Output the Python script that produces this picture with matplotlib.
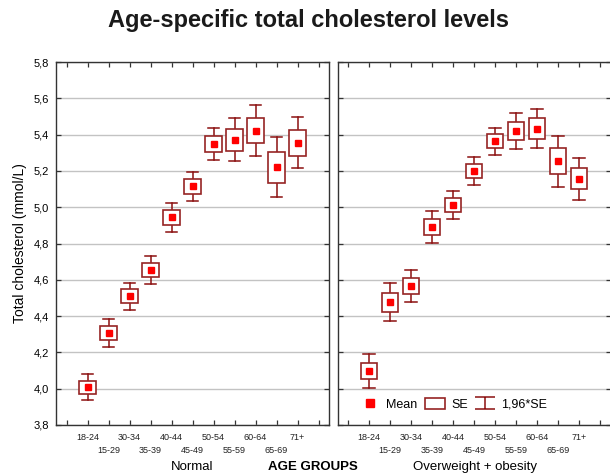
import matplotlib.pyplot as plt
from matplotlib.lines import Line2D
from matplotlib.patches import Patch, Rectangle
from matplotlib.path import Path
from matplotlib.ticker import FuncFormatter

plt.rcParams['font.family'] = ['Liberation Sans', 'DejaVu Sans']

# age groups as printed on the axis
age_groups = ['18-24', '15-29', '30-34', '35-39', '40-44', '45-49',
              '50-54', '55-59', '60-64', '65-69', '71+']

# Normal weight group
normal_mean = [4.009, 4.307, 4.509, 4.654, 4.944, 5.115, 5.348, 5.372, 5.421, 5.220, 5.355]
normal_se = [0.036, 0.039, 0.039, 0.040, 0.040, 0.040, 0.046, 0.060, 0.070, 0.085, 0.072]
normal_ci = [0.073, 0.079, 0.076, 0.079, 0.080, 0.079, 0.090, 0.118, 0.140, 0.166, 0.140]

# Overweight + obesity group
over_mean = [4.098, 4.476, 4.566, 4.891, 5.012, 5.198, 5.363, 5.421, 5.433, 5.253, 5.157]
over_se = [0.046, 0.053, 0.042, 0.044, 0.040, 0.039, 0.039, 0.050, 0.056, 0.072, 0.059]
over_ci = [0.092, 0.105, 0.089, 0.088, 0.077, 0.076, 0.075, 0.100, 0.107, 0.140, 0.116]

panels = ['Normal', 'Overweight + obesity']

BOX_C = '#962424'
WHISK_C = '#8b1010'
MEAN_C = '#ff0000'
GRID_C = '#c3c3c3'
SPINE_C = '#333333'

fig = plt.figure(figsize=(6.10, 4.74), dpi=100)
ax1 = fig.add_axes([56 / 610, 49 / 474, 273 / 610, 363 / 474])
ax2 = fig.add_axes([337.5 / 610, 49 / 474, 273 / 610, 363 / 474])


def draw_panel(ax, means, se, ci):
    x = list(range(len(means)))
    box_w = 0.8
    cap_w = 0.56
    for xi, m, s, c in zip(x, means, se, ci):
        # 1.96*SE whisker
        ax.plot([xi, xi], [m - c, m - s], color=WHISK_C, lw=1.1, zorder=3)
        ax.plot([xi, xi], [m + s, m + c], color=WHISK_C, lw=1.1, zorder=3)
        ax.plot([xi - cap_w / 2, xi + cap_w / 2], [m - c, m - c], color=WHISK_C, lw=1.1, zorder=3)
        ax.plot([xi - cap_w / 2, xi + cap_w / 2], [m + c, m + c], color=WHISK_C, lw=1.1, zorder=3)
        # SE box
        ax.add_patch(Rectangle((xi - box_w / 2, m - s), box_w, 2 * s,
                               facecolor='white', edgecolor=BOX_C, lw=1.2, zorder=4))
    ax.plot(x, means, 's', color=MEAN_C, ms=4.6, mec=MEAN_C, zorder=5)

    ax.set_xlim(-1.5, 11.5)
    ax.set_ylim(3.8, 5.8)
    ax.set_yticks([3.8 + 0.2 * i for i in range(11)])
    ax.yaxis.grid(True, color=GRID_C, lw=1.0, zorder=0)
    ax.set_axisbelow(True)
    ax.set_xticks(list(range(-1, 12)))
    labels = [''] + [g if i % 2 == 0 else '\n' + g for i, g in enumerate(age_groups)] + ['']
    ax.set_xticklabels(labels, fontsize=6.5, color='#222222', linespacing=1.5)
    ax.tick_params(direction='in', length=3.5, width=0.9, color=SPINE_C,
                   top=True, right=True, pad=6)
    for sp in ax.spines.values():
        sp.set_color(SPINE_C)
        sp.set_linewidth(1.0)


draw_panel(ax1, normal_mean, normal_se, normal_ci)
draw_panel(ax2, over_mean, over_se, over_ci)

ax1.yaxis.set_major_formatter(FuncFormatter(lambda v, p: f'{v:.1f}'.replace('.', ',')))
ax1.tick_params(axis='y', labelsize=8, pad=5)
ax2.tick_params(axis='y', labelleft=False)
ax1.set_ylabel('Total cholesterol (mmol/L)', fontsize=10, labelpad=5)

fig.text(192 / 610, 1 - 467 / 474, panels[0], fontsize=9.5, ha='center', va='center')
fig.text(313 / 610, 1 - 467 / 474, 'AGE GROUPS', fontsize=9.5, weight='bold', ha='center', va='center')
fig.text(475 / 610, 1 - 467 / 474, panels[1], fontsize=9.5, ha='center', va='center')

fig.suptitle('Age-specific total cholesterol levels', fontsize=17, weight='bold',
             x=0.505, y=1 - 21 / 474, va='center', color='#1a1a1a')

# legend
whisk_path = Path([(-1, 0.58), (1, 0.58), (0, 0.58), (0, -0.58), (-1, -0.58), (1, -0.58)],
                  [Path.MOVETO, Path.LINETO, Path.MOVETO, Path.LINETO, Path.MOVETO, Path.LINETO])
handles = [
    Line2D([], [], marker='s', ls='none', color=MEAN_C, ms=6),
    Patch(facecolor='white', edgecolor=BOX_C, lw=1.2),
    Line2D([], [], marker=whisk_path, ls='none', color=WHISK_C, mfc='none', ms=14, mew=1.1),
]
ax2.legend(handles, ['Mean', 'SE', '1,96*SE'], loc='lower left', bbox_to_anchor=(0.045, 0.012),
           ncol=3, frameon=False, fontsize=9, handlelength=1.6, handleheight=0.9,
           handletextpad=0.5, columnspacing=0.6, borderaxespad=0.4)

plt.savefig('out.png', dpi=100)
